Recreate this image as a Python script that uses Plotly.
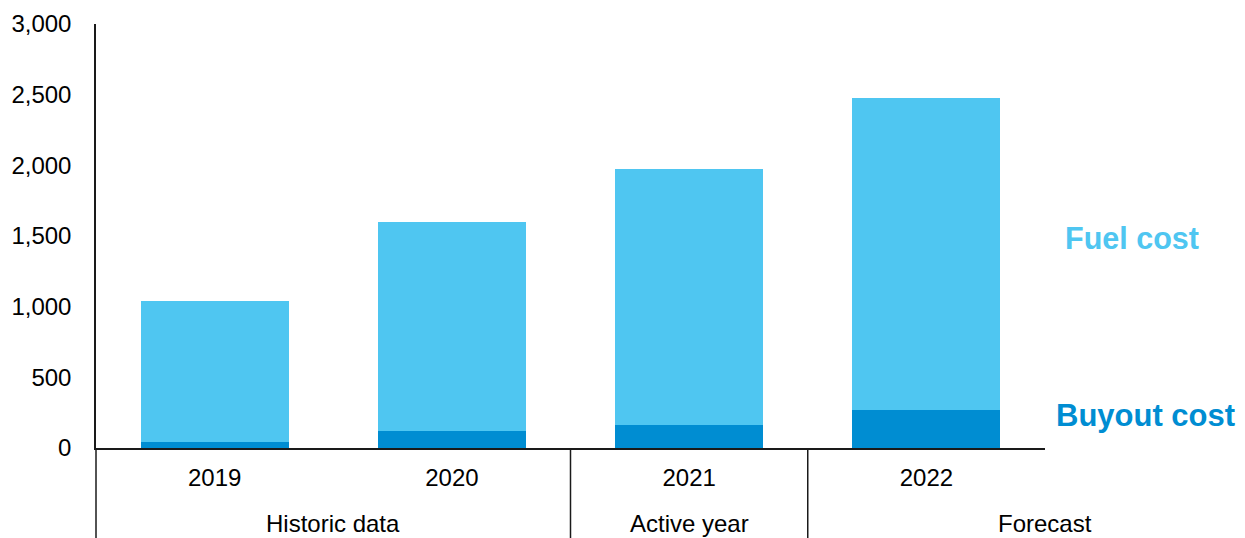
import plotly.graph_objects as go

years = ["2019", "2020", "2021", "2022"]
buyout_cost = [40, 123, 163, 272]
fuel_cost = [998, 1474, 1809, 2201]
groups = ["Historic data", "Historic data", "Active year", "Forecast"]
group_labels = ["Historic data", "Active year", "Forecast"]
group_label_pos = [0.5, 2, 3.5]
y_ticks = [0, 500, 1000, 1500, 2000, 2500, 3000]

FUEL_COLOR = "#4FC6F1"
BUYOUT_COLOR = "#008DD2"
LINE_COLOR = "#1a1a1a"
FONT = "Liberation Sans, Arial, sans-serif"

fig = go.Figure()
fig.add_trace(go.Bar(x=years, y=buyout_cost, name="Buyout cost",
                     marker=dict(color=BUYOUT_COLOR, line=dict(width=0))))
fig.add_trace(go.Bar(x=years, y=fuel_cost, name="Fuel cost",
                     marker=dict(color=FUEL_COLOR, line=dict(width=0))))

plot_h = 538 - 24 - 90
below = -90 / plot_h

shapes = []
# group separators between groups
for i in range(1, len(groups)):
    if groups[i] != groups[i - 1]:
        shapes.append(dict(type="line", xref="x", yref="paper",
                           x0=i - 0.5, x1=i - 0.5, y0=0, y1=below,
                           line=dict(color=LINE_COLOR, width=1.5)))
# y-axis extension below the baseline
shapes.append(dict(type="line", xref="paper", yref="paper",
                   x0=0, x1=0, y0=0, y1=below,
                   line=dict(color=LINE_COLOR, width=1.5)))

annotations = []
for lbl, pos in zip(group_labels, group_label_pos):
    annotations.append(dict(text=lbl, x=pos, xref="x", y=-0.177, yref="paper",
                            xanchor="center", yanchor="middle", showarrow=False,
                            font=dict(family=FONT, size=24, color="black")))
annotations.append(dict(text="<b>Fuel cost</b>", x=1.019, xref="paper",
                        y=0.496, yref="paper", xanchor="left", yanchor="middle",
                        showarrow=False,
                        font=dict(family=FONT, size=30.5, color=FUEL_COLOR)))
annotations.append(dict(text="<b>Buyout cost</b>", x=1.010, xref="paper",
                        y=0.077, yref="paper", xanchor="left", yanchor="middle",
                        showarrow=False,
                        font=dict(family=FONT, size=31, color=BUYOUT_COLOR)))

fig.update_layout(
    width=1245, height=538,
    margin=dict(l=96, r=200, t=24, b=90),
    barmode="stack", bargap=0.376,
    showlegend=False,
    plot_bgcolor="white", paper_bgcolor="white",
    font=dict(family=FONT, size=24, color="black"),
    shapes=shapes, annotations=annotations,
    xaxis=dict(type="category", range=[-0.5, len(years) - 0.5],
               showgrid=False, ticks="", showline=True, automargin=False,
               linecolor=LINE_COLOR, linewidth=1.5, ticklabelstandoff=7,
               tickfont=dict(family=FONT, size=24, color="black")),
    yaxis=dict(range=[0, 3000], tickvals=y_ticks, tickformat=",",
               showgrid=False, zeroline=False, ticks="", showline=True,
               automargin=False,
               linecolor=LINE_COLOR, linewidth=1.5, ticklabelstandoff=18,
               tickfont=dict(family=FONT, size=24, color="black")),
)

fig.write_html("out.html")
